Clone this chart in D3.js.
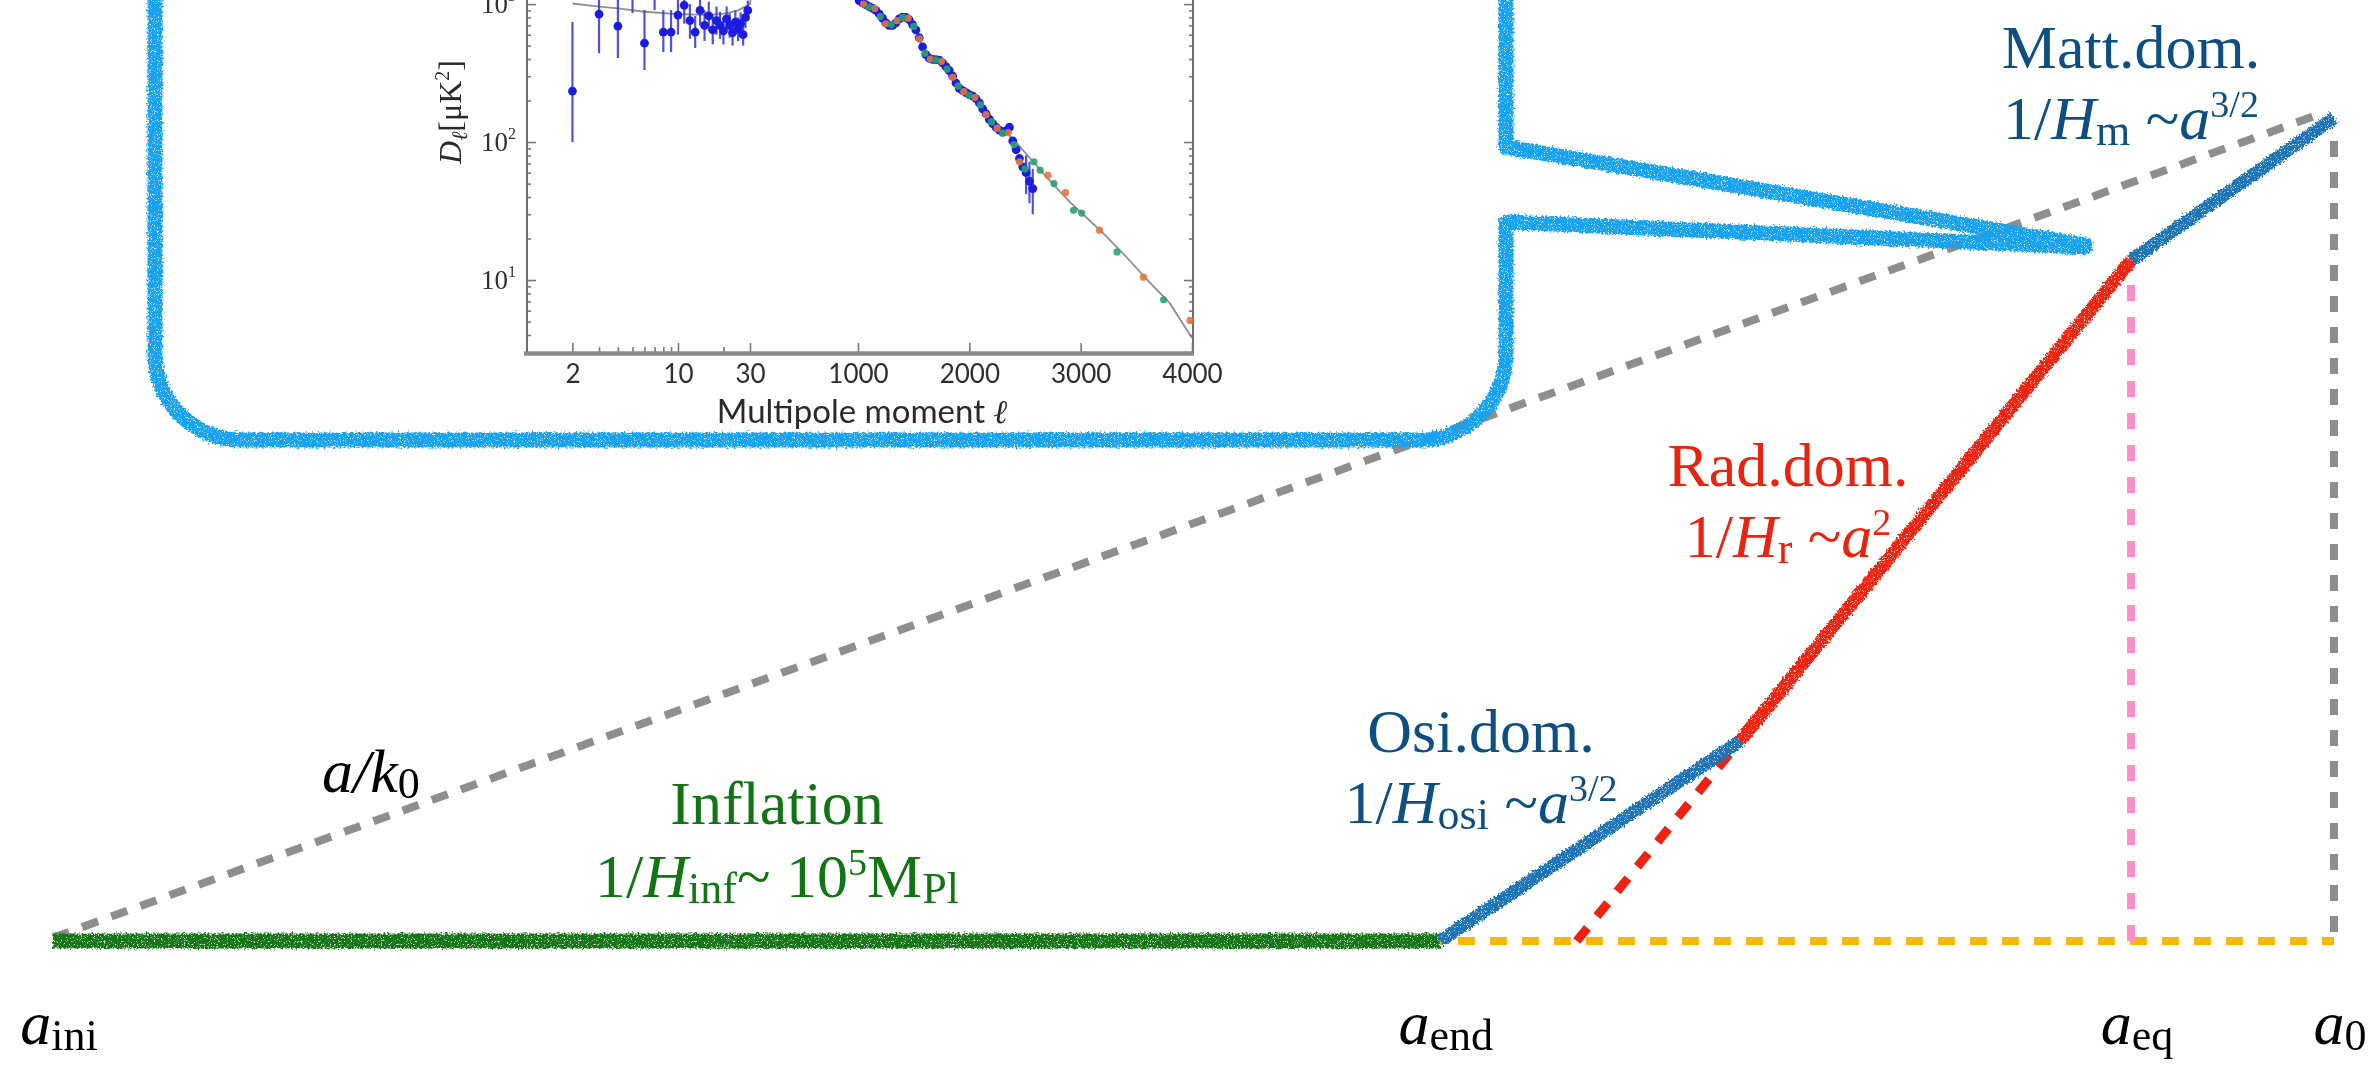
<!DOCTYPE html>
<html>
<head>
<meta charset="utf-8">
<script src="https://cdn.jsdelivr.net/npm/d3@7"></script>
<style>
  html, body { margin: 0; padding: 0; background: #ffffff; overflow: hidden; }
  svg { display: block; }
</style>
</head>
<body>
<svg id="chart" width="2377" height="1066"></svg>
<script>
// ---------- Hubble-radius history (log a on x, log 1/H on y, schematic units 0..100) ----------
const stageNames   = ["Inflation", "Osi.dom.", "Rad.dom.", "Matt.dom."];
const stageStartA  = [0, 60.8, 73.96, 91.1];
const stageEndA    = [60.8, 73.96, 91.1, 100];
const stageStartR  = [0, 0, 24.3, 82.7];
const stageEndR    = [0, 24.3, 82.7, 100];

// comoving scale a/k0
const modeA = [0, 99.6];
const modeR = [0.4, 100.7];

// radiation branch extrapolated back to the inflation level
const radExtA = [66.8, 73.96];
const radExtR = [0, 24.3];

// epochs marked on the a-axis
const epochNames = ["ini", "end", "eq", "0"];
const epochA     = [0, 60.8, 91.1, 100];
const eqTopR     = 82.7;
const todayTopR  = 98.9;

// ---------- CMB TT spectrum inset ----------
// Planck low-l points with asymmetric errors
const lowL  = [2,3,4,5,6,7,8,9,10,11,12,13,14,15,16,17,18,19,20,21,22,23,24,25,26,27,28,29];
const lowD  = [234,847,692,1250,521,1150,627,627,833,980,760,627,900,700,820,650,760,700,640,780,700,620,740,660,720,600,800,900];
const lowLo = [100,441,406,860,333,905,449,449,600,720,560,480,700,540,640,510,600,560,510,630,570,500,610,540,600,500,670,760];
const lowHi = [741,1300,1200,1800,905,1600,905,905,1150,1300,1000,820,1150,900,1040,830,960,880,800,960,860,760,900,800,870,720,950,1060];

// Planck binned high-l points
const highL = [1010,1040,1070,1100,1130,1160,1190,1220,1250,1280,1310,1340,1370,1400,1430,1460,1490,1520,1550,1580,
               1610,1640,1670,1700,1730,1760,1790,1820,1850,1880,1910,1940,1970,2000,2030,2060,2090,2120,2150,2180,
               2210,2240,2270,2300,2330,2360,2390,2420,2450,2480];
const highD = [1060,1020,990,960,935,900,850,790,730,700,700,730,780,805,800,770,710,650,570,490,
               430,405,398,396,392,375,352,330,300,268,245,236,228,221,215,206,192,174,160,146,
               136,128,122,118,121,128,102,88,76,66];
const tailL  = [2510, 2540, 2570];
const tailD  = [60, 52, 46];
const tailLo = [42, 36, 30];
const tailHi = [80, 72, 64];

// ground-based points (ACT-like, orange)
const actL = [1050,1150,1250,1350,1450,1550,1650,1750,1850,1950,2050,2150,2250,2350,2450,
              2705, 2864, 3169, 3564, 3982];
const actD = [1000,930,720,760,790,560,400,385,295,232,210,158,126,117,72,
              57.6, 43, 23, 10.5, 5.1];
// ground-based points (SPT-like, green)
const sptL = [1100,1200,1300,1400,1500,1600,1700,1800,1900,2000,2100,2200,2300,2400,2500,
              2580, 2636, 2760, 2936, 3009, 3327, 3745];
const sptD = [950,810,710,800,690,440,394,338,255,218,186,140,116,96,64,
              72, 62.6, 50, 32, 30.6, 16, 7.2];

// best-fit model curve
const modelL = [2,3,4,6,8,10,15,20,25,30,45,80,150,220,300,420,540,680,810,900,
                1000,1060,1120,1200,1260,1330,1420,1500,1570,1640,1720,1800,1860,1940,2020,2100,2180,2260,2340,2420,
                2500,2600,2700,2800,2900,3000,3200,3400,3600,3800,4000];
const modelD = [1010,960,930,880,860,845,835,850,900,1000,1300,2200,4200,5700,3600,1800,2600,1900,2500,1600,
                1080,1000,960,850,710,720,805,720,520,410,395,340,280,235,215,195,160,128,115,100,
                84,68,55,45,37,31,22,15,10,6.8,3.8];

const xTickLow  = [2, 10, 30];
const xTickHigh = [1000, 2000, 3000, 4000];
const xMinorLow = [3,4,5,6,7,8,9,20];
const yTicks    = [10, 100, 1000];
const yMinor    = [4,5,6,7,8,9,20,30,40,50,60,70,80,90,200,300,400,500,600,700,800,900,2000,3000];

// ---------- styles ----------
const serif = "'Liberation Serif', 'Times New Roman', serif";
const sans  = "Lato, 'Open Sans', sans-serif";
const stageLine  = ["#157515", "#1a73b6", "#ee2210", "#1a73b6"];
const stageText  = ["#137413", "#0e4f82", "#e8230f", "#0e4f82"];

const svg = d3.select("#chart");
const W = 2377, H = 1066;

// chalk texture for hand-drawn strokes
const defs = svg.append("defs");
const chalk = defs.append("filter").attr("id", "chalk")
  .attr("filterUnits", "userSpaceOnUse")
  .attr("x", -50).attr("y", -400).attr("width", W + 100).attr("height", H + 500);
chalk.append("feTurbulence").attr("type", "fractalNoise").attr("baseFrequency", 0.5)
  .attr("numOctaves", 3).attr("seed", 7).attr("result", "n1");
chalk.append("feDisplacementMap").attr("in", "SourceGraphic").attr("in2", "n1")
  .attr("scale", 7).attr("xChannelSelector", "R").attr("yChannelSelector", "G").attr("result", "d");
chalk.append("feTurbulence").attr("type", "fractalNoise").attr("baseFrequency", 1.3)
  .attr("numOctaves", 1).attr("seed", 3).attr("result", "n2");
chalk.append("feColorMatrix").attr("in", "n2").attr("type", "matrix")
  .attr("values", "0 0 0 0 0  0 0 0 0 0  0 0 0 0 0  -6 0 0 0 4.5").attr("result", "mask");
chalk.append("feComposite").attr("in", "d").attr("in2", "mask").attr("operator", "in");

const soft = defs.append("filter").attr("id", "soft")
  .attr("filterUnits", "userSpaceOnUse").attr("x", 0).attr("y", -400).attr("width", W).attr("height", H + 400);
soft.append("feGaussianBlur").attr("stdDeviation", 0.6);

// ---------- main scales ----------
const x = d3.scaleLinear().domain([0, 100]).range([53, 2334]);
const y = d3.scaleLinear().domain([0, 100]).range([941, 118]);
const seg = d3.line().x(d => x(d[0])).y(d => y(d[1]));

// ---------- inset (CMB spectrum) ----------
const inset = svg.append("g").attr("filter", "url(#soft)");
const xLog = d3.scaleLog().domain([1, 30]).range([527, 750]);
const xLin = d3.scaleLinear().domain([30, 4000]).range([750, 1192]);
const xl = l => (l <= 30 ? xLog(l) : xLin(l));
const yl = d3.scaleLog().domain([3, 10000]).range([352.2, -133.9]);

// frame
inset.append("line").attr("x1", 527).attr("x2", 527).attr("y1", yl(10000)).attr("y2", 353)
  .attr("stroke", "#6d6d6d").attr("stroke-width", 2);
inset.append("line").attr("x1", 1193).attr("x2", 1193).attr("y1", yl(10000)).attr("y2", 353)
  .attr("stroke", "#6d6d6d").attr("stroke-width", 2);

function tickAxis(axis, tx, ty) {
  const g = inset.append("g").attr("transform", `translate(${tx},${ty})`).call(axis);
  g.select(".domain").remove();
  g.selectAll("line").attr("stroke", "#777").attr("stroke-width", 1.6);
  return g;
}
// y ticks (inward on both sides)
tickAxis(d3.axisLeft(yl).tickValues(yTicks).tickSize(-9).tickFormat(""), 527, 0);
tickAxis(d3.axisLeft(yl).tickValues(yMinor).tickSize(-4).tickFormat(""), 527, 0);
tickAxis(d3.axisRight(yl).tickValues(yTicks).tickSize(-9).tickFormat(""), 1193, 0);
tickAxis(d3.axisRight(yl).tickValues(yMinor).tickSize(-4).tickFormat(""), 1193, 0);

// x ticks
const bx1 = tickAxis(d3.axisBottom(xLog).tickValues(xTickLow).tickSizeInner(-9).tickSizeOuter(0)
  .tickPadding(13).tickFormat(d3.format("d")), 0, 352);
const bx2 = tickAxis(d3.axisBottom(xLin).tickValues(xTickHigh).tickSizeInner(-9).tickSizeOuter(0)
  .tickPadding(13).tickFormat(d3.format("d")), 0, 352);
tickAxis(d3.axisBottom(xLog).tickValues(xMinorLow).tickSizeInner(-5).tickSizeOuter(0).tickFormat(""), 0, 352);
[bx1, bx2].forEach(g => g.selectAll("text")
  .attr("font-family", sans).attr("font-size", 26).attr("fill", "#2e2e2e"));

// bottom axis line (thick)
inset.append("line").attr("x1", 524).attr("x2", 1194).attr("y1", 353.5).attr("y2", 353.5)
  .attr("stroke", "#8a8a8a").attr("stroke-width", 4.5);

// y tick labels 10^n
yTicks.forEach(v => {
  const t = inset.append("text").attr("x", 516).attr("y", yl(v) + 9)
    .attr("text-anchor", "end").attr("font-family", serif).attr("font-size", 27).attr("fill", "#333");
  t.append("tspan").text("10");
  t.append("tspan").attr("dy", -12).attr("font-size", 16).text(String(Math.round(Math.log10(v))));
});

// axis titles
const xt = inset.append("text").attr("x", 862).attr("y", 423).attr("text-anchor", "middle")
  .attr("font-family", sans).attr("font-size", 33).attr("fill", "#2a2a2a");
xt.append("tspan").text("Multipole moment ");
xt.append("tspan").attr("font-style", "italic").attr("font-family", serif).text("ℓ");

const yt = inset.append("text").attr("transform", "translate(461,112) rotate(-90)")
  .attr("text-anchor", "middle").attr("font-family", serif).attr("font-size", 32).attr("fill", "#2a2a2a");
yt.append("tspan").attr("font-style", "italic").text("D");
yt.append("tspan").attr("dy", 6).attr("font-size", 22).attr("font-style", "italic").text("ℓ");
yt.append("tspan").attr("dy", -6).text("[μK");
yt.append("tspan").attr("dy", -12).attr("font-size", 20).text("2");
yt.append("tspan").attr("dy", 12).text("]");

// model curve
const modelPts = modelL.map((l, i) => [l, modelD[i]]);
inset.append("path").datum(modelPts)
  .attr("d", d3.line().x(d => xl(d[0])).y(d => yl(d[1])))
  .attr("fill", "none").attr("stroke", "#8f8f8f").attr("stroke-width", 1.8);

// error bars
const lowPts = lowL.map((l, i) => ({ l, d: lowD[i], lo: lowLo[i], hi: lowHi[i] }));
const tailPts = tailL.map((l, i) => ({ l, d: tailD[i], lo: tailLo[i], hi: tailHi[i] }));
inset.append("g").selectAll("line").data(lowPts.concat(tailPts)).join("line")
  .attr("x1", d => xl(d.l)).attr("x2", d => xl(d.l))
  .attr("y1", d => yl(d.lo)).attr("y2", d => yl(d.hi))
  .attr("stroke", "#3434d6").attr("stroke-width", 2.2).attr("opacity", 0.85);

// Planck points
const planckPts = lowPts.concat(highL.map((l, i) => ({ l, d: highD[i] }))).concat(tailPts);
inset.append("g").selectAll("circle").data(planckPts).join("circle")
  .attr("cx", d => xl(d.l)).attr("cy", d => yl(d.d)).attr("r", 4.4)
  .attr("fill", "#1f1fe0");

// ground-based points, interleaved with the Planck band
inset.append("g").selectAll("circle").data(actL.map((l, i) => [l, actD[i]])).join("circle")
  .attr("cx", d => xl(d[0])).attr("cy", d => yl(d[1])).attr("r", 3.6).attr("fill", "#e2773f")
  .attr("opacity", 0.9);
inset.append("g").selectAll("circle").data(sptL.map((l, i) => [l, sptD[i]])).join("circle")
  .attr("cx", d => xl(d[0])).attr("cy", d => yl(d[1])).attr("r", 3.6).attr("fill", "#27a36f")
  .attr("opacity", 0.9);

// ---------- main diagram ----------
const main = svg.append("g");

const dashed = (pts, color, w, dash) => main.append("path").datum(pts).attr("d", seg)
  .attr("fill", "none").attr("stroke", color).attr("stroke-width", w)
  .attr("stroke-dasharray", dash);

dashed([[epochA[1], 0], [epochA[3], 0]], "#f9b800", 8, "17 15").attr("stroke-dashoffset", -18);
dashed([[epochA[2], 0], [epochA[2], eqTopR]], "#ff8ecb", 8, "16 16");
dashed([[epochA[3], 1.1], [epochA[3], todayTopR]], "#8e8e8e", 8, "16 15");
dashed(modeA.map((a, i) => [a, modeR[i]]), "#8e8e8e", 8, "17 14");
dashed(radExtA.map((a, i) => [a, radExtR[i]]), "#ee2210", 9, "17 15");

// callout frame around the inset
const L = 155, R = 1506, B = 440, T = -400, rad = 86;
const tip = [2085, 246];
const frame = d3.path();
frame.moveTo(R, T);
frame.lineTo(R, 147);
frame.lineTo(tip[0], tip[1] - 1);
frame.lineTo(tip[0], tip[1] + 1);
frame.lineTo(R, 222);
frame.lineTo(R, B - rad);
frame.arcTo(R, B, R - rad, B, rad);
frame.lineTo(L + rad, B);
frame.arcTo(L, B, L, B - rad, rad);
frame.lineTo(L, T);
main.append("path").attr("d", frame.toString())
  .attr("fill", "none").attr("stroke", "#14a2f0").attr("stroke-width", 15)
  .attr("stroke-linejoin", "round").attr("filter", "url(#chalk)");

// expansion stages
const stagePts = stageNames.map((n, i) => [[stageStartA[i], stageStartR[i]], [stageEndA[i], stageEndR[i]]]);
main.append("g").selectAll("path").data(stagePts).join("path")
  .attr("d", seg).attr("fill", "none")
  .attr("stroke", (d, i) => stageLine[i])
  .attr("stroke-width", (d, i) => (i === 0 ? 15 : 13))
  .attr("stroke-linecap", "butt")
  .attr("filter", "url(#chalk)");

// ---------- labels ----------
function rich(g, px, py, parts, color, anchor) {
  const t = g.append("text").attr("x", px).attr("y", py)
    .attr("text-anchor", anchor || "middle").attr("font-family", serif)
    .attr("font-size", 62).attr("fill", color);
  let shift = 0;
  parts.forEach(([str, kind]) => {
    const s = t.append("tspan").text(str);
    const target = kind === "sub" ? 6 : kind === "sup" ? -22 : 0;
    if (target !== shift) s.attr("dy", target - shift);
    shift = target;
    if (kind === "i") s.attr("font-style", "italic");
    if (kind === "sub") s.attr("font-size", 44);
    if (kind === "sup") s.attr("font-size", 38);
  });
  return t;
}

const stageFormula = [
  [["1/", "n"], ["H", "i"], ["inf", "sub"], ["~ 10", "n"], ["5", "sup"], ["M", "n"], ["Pl", "sub"]],
  [["1/", "n"], ["H", "i"], ["osi", "sub"], [" ~", "n"], ["a", "i"], ["3/2", "sup"]],
  [["1/", "n"], ["H", "i"], ["r", "sub"], [" ~", "n"], ["a", "i"], ["2", "sup"]],
  [["1/", "n"], ["H", "i"], ["m", "sub"], [" ~", "n"], ["a", "i"], ["3/2", "sup"]]
];
const labelPos = [[777, 824, 897], [1481, 752, 823], [1788, 486, 557], [2131, 68, 139]];
stageNames.forEach((n, i) => {
  const [cx, y1, y2] = labelPos[i];
  rich(main, cx, y1, [[n, "n"]], stageText[i]);
  rich(main, cx, y2, stageFormula[i], stageText[i]);
});

rich(main, 322, 792, [["a/k", "i"], ["0", "sub"]], "#000", "start");

epochNames.forEach((n, i) => {
  rich(main, x(epochA[i]) + 6, 1044, [["a", "i"], [n, "sub"]], "#000");
});
</script>
</body>
</html>
